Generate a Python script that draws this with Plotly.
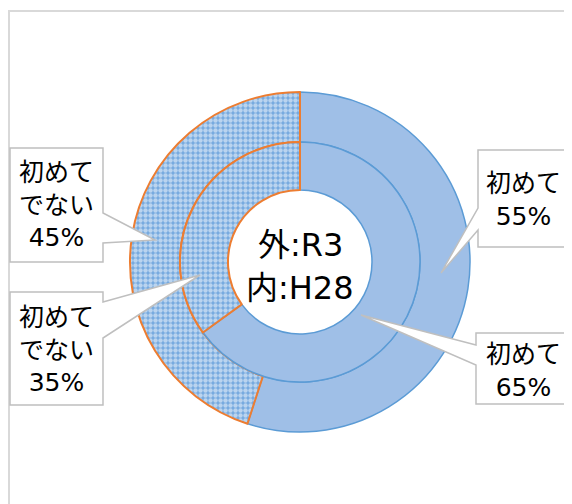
import plotly.graph_objects as go

# ---- data ----
categories = ["初めて", "初めてでない"]
outer_values = [55, 45]   # 外:R3
inner_values = [65, 35]   # 内:H28
center_lines = ["外:R3", "内:H28"]

W, H = 572, 504
OFF = 8  # page body margin
CX, CY = 300, 262
R_OUT, R_MID, R_HOLE = 170, 120, 72


def fx(x):
    return (x - OFF) / W


def fy(y):
    return 1 - (y - OFF) / H


def dom(r):
    return dict(x=[fx(CX - r), fx(CX + r)], y=[fy(CY + r), fy(CY - r)])


BLUE_FILL = "#9fbfe7"
BLUE_LINE = "#5b9bd5"
ORANGE = "#ed7d31"

marker_common = dict(
    colors=[BLUE_FILL, "#74a8de"],
    line=dict(color=[BLUE_LINE, ORANGE], width=[1.5, 2]),
    pattern=dict(shape=["", "."], fgcolor="white",
                 size=5, solidity=0.62, fillmode="overlay"),
)

fig = go.Figure()
fig.add_trace(go.Pie(labels=categories, values=outer_values, hole=R_MID / R_OUT,
                     domain=dom(R_OUT), sort=False, direction="clockwise",
                     rotation=0, textinfo="none", marker=marker_common,
                     showlegend=False))
fig.add_trace(go.Pie(labels=categories, values=inner_values, hole=R_HOLE / R_MID,
                     domain=dom(R_MID), sort=False, direction="clockwise",
                     rotation=0, textinfo="none", marker=marker_common,
                     showlegend=False))


def callout(box, base, tip, side):
    x0, y0, x1, y1 = box
    b0, b1 = base
    tx, ty = tip
    if side == "left":
        pts = [(x0, y0), (x1, y0), (x1, y1), (x0, y1), (x0, b1), (tx, ty), (x0, b0)]
    else:
        pts = [(x0, y0), (x1, y0), (x1, b0), (tx, ty), (x1, b1), (x1, y1), (x0, y1)]
    path = "M " + " L ".join(f"{fx(x):.5f},{fy(y):.5f}" for x, y in pts) + " Z"
    fig.add_shape(type="path", path=path, xref="paper", yref="paper",
                  fillcolor="white", line=dict(color="#bfbfbf", width=1.5),
                  layer="above")


# outer 55% (right top), inner 65% (right bottom), outer 45% (left top), inner 35% (left bottom)
callout((478, 150, 571, 247), (208, 230), (441, 273), "left")
callout((476, 333, 570, 404), (345, 365), (361, 315), "left")
callout((10, 148, 103, 262), (213, 243), (155, 240), "right")
callout((10, 292, 103, 405), (302, 338), (200, 275), "right")

FONT = "DejaVu Sans, Noto Sans CJK JP, sans-serif"


def label(x, y, txt, size):
    fig.add_annotation(x=fx(x), y=fy(y), xref="paper", yref="paper",
                       xanchor="center", yanchor="middle",
                       text=txt, showarrow=False, align="center",
                       font=dict(family=FONT, size=size, color="#000000"))


def lab(cat, val):
    if cat == "初めてでない":
        return f"初めて<br>でない<br>{val}%"
    return f"{cat}<br>{val}%"


label(523, 200, lab(categories[0], outer_values[0]), 25)
label(523, 371, lab(categories[0], inner_values[0]), 25)
label(56, 205, lab(categories[1], outer_values[1]), 25)
label(56, 350, lab(categories[1], inner_values[1]), 25)

label(CX, 245, center_lines[0], 32)
label(CX, 288, center_lines[1], 32)

# chart frame
fig.add_shape(type="rect", xref="paper", yref="paper",
              x0=fx(9), y0=fy(560), x1=fx(620), y1=fy(11),
              line=dict(color="#d9d9d9", width=2), fillcolor="rgba(0,0,0,0)",
              layer="below")

fig.update_layout(width=W, height=H, margin=dict(l=0, r=0, t=0, b=0),
                  paper_bgcolor="white", plot_bgcolor="white", showlegend=False)

fig.write_html("out.html")
